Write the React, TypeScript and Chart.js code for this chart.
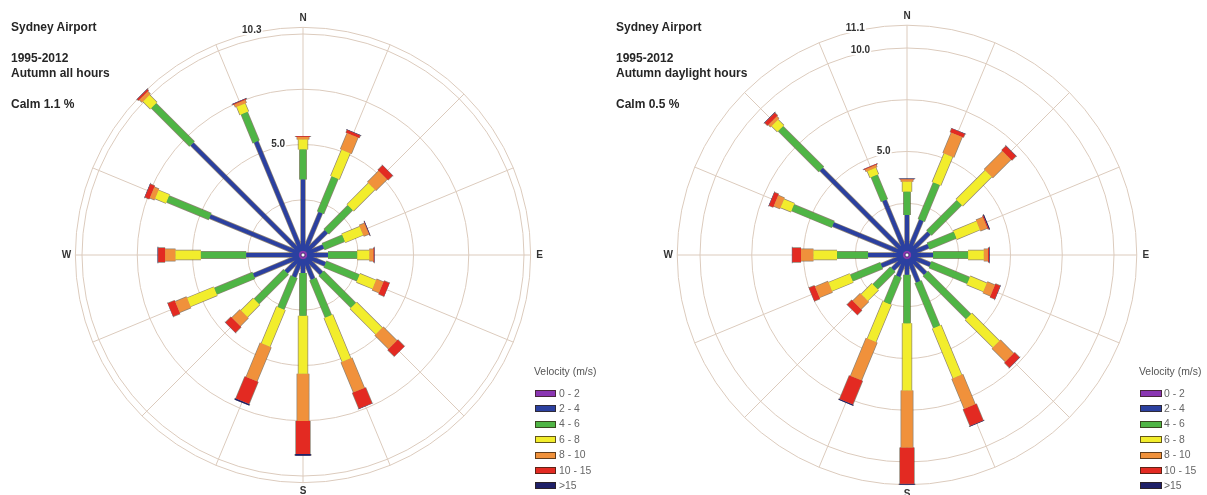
import React, { useEffect, useRef } from 'react';
import { Chart, registerables } from 'chart.js';

Chart.register(...registerables);

// ---------- data ----------
const directions = ['N', 'NNE', 'NE', 'ENE', 'E', 'ESE', 'SE', 'SSE', 'S', 'SSW', 'SW', 'WSW', 'W', 'WNW', 'NW', 'NNW'];
const velocityClasses = ['0 - 2', '2 - 4', '4 - 6', '6 - 8', '8 - 10', '10 - 15', '>15'];

// Autumn all hours (% frequency per direction, per velocity class)
const allHours0to2 = [0.18, 0.18, 0.18, 0.18, 0.18, 0.18, 0.18, 0.18, 0.18, 0.18, 0.18, 0.18, 0.18, 0.18, 0.18, 0.18];
const allHours2to4 = [3.24, 1.89, 1.31, 0.81, 0.95, 0.9, 0.99, 0.99, 0.63, 0.88, 0.9, 2.23, 2.39, 4.37, 6.92, 5.36];
const allHours4to6 = [1.35, 1.71, 1.53, 0.99, 1.32, 1.62, 2.05, 1.83, 1.94, 1.55, 1.89, 1.87, 2.05, 2.07, 2.45, 1.4];
const allHours6to8 = [0.46, 1.29, 1.37, 0.88, 0.55, 0.79, 1.64, 2.14, 2.62, 1.8, 0.79, 1.31, 1.15, 0.54, 0.48, 0.4];
const allHours8to10 = [0.11, 0.79, 0.72, 0.25, 0.18, 0.34, 0.88, 1.48, 2.14, 1.67, 0.52, 0.56, 0.47, 0.23, 0.17, 0.14];
const allHours10to15 = [0.03, 0.13, 0.3, 0.02, 0.04, 0.27, 0.43, 0.77, 1.5, 1.08, 0.36, 0.34, 0.31, 0.22, 0.08, 0.04];
const allHoursOver15 = [0.02, 0.02, 0.01, 0.03, 0.02, 0.01, 0.01, 0.02, 0.07, 0.07, 0.01, 0.01, 0.03, 0.02, 0.02, 0.02];

// Autumn daylight hours
const daylight0to2 = [0.19, 0.19, 0.19, 0.19, 0.19, 0.19, 0.19, 0.19, 0.19, 0.19, 0.19, 0.19, 0.19, 0.19, 0.19, 0.19];
const daylight2to4 = [1.74, 1.62, 1.31, 0.92, 1.07, 1.02, 1.07, 1.21, 0.77, 0.92, 0.78, 1.14, 1.69, 3.67, 5.66, 2.66];
const daylight4to6 = [1.13, 1.91, 2.07, 1.4, 1.69, 2.0, 2.94, 2.35, 2.34, 1.4, 1.2, 1.57, 1.5, 2.11, 2.78, 1.28];
const daylight6to8 = [0.48, 1.5, 1.99, 1.21, 0.76, 0.87, 1.89, 2.6, 3.24, 1.95, 0.73, 1.11, 1.14, 0.55, 0.4, 0.34];
const daylight8to10 = [0.11, 1.06, 1.25, 0.36, 0.2, 0.4, 0.91, 1.57, 2.76, 1.98, 0.52, 0.68, 0.6, 0.33, 0.15, 0.12];
const daylight10to15 = [0.02, 0.19, 0.29, 0.05, 0.05, 0.25, 0.34, 0.87, 1.75, 1.23, 0.32, 0.29, 0.42, 0.22, 0.19, 0.04];
const daylightOver15 = [0.02, 0.02, 0.02, 0.05, 0.03, 0.02, 0.02, 0.03, 0.05, 0.06, 0.01, 0.01, 0.02, 0.02, 0.03, 0.01];

// grid rings and labelled ticks
const allHoursRings = [2.5, 5, 7.5, 10, 10.3];
const allHoursTickLabels = [5, 10.3];
const daylightRings = [2.5, 5, 7.5, 10, 11.1];
const daylightTickLabels = [5, 10, 11.1];
const compassLabels = ['N', 'E', 'S', 'W'];

// ---------- style ----------
const classColors = ['#8a35b2', '#2b40a0', '#4fb545', '#f2ed2c', '#f0913b', '#e32a22', '#1f2068'];
const classWidths = [3, 4, 6.5, 9, 11.5, 14, 15.5];
const FONT = '"Liberation Sans", Arial, sans-serif';

type Pt = { x: number; y: number | null };

function segmentsFor(classes: number[][], k: number): Pt[] {
  const pts: Pt[] = [];
  directions.forEach((_, i) => {
    let start = 0;
    for (let j = 0; j < k; j++) start += classes[j][i];
    const end = start + classes[k][i];
    const a = (i * 22.5 * Math.PI) / 180;
    pts.push({ x: start * Math.sin(a), y: start * Math.cos(a) });
    pts.push({ x: end * Math.sin(a), y: end * Math.cos(a) });
    pts.push({ x: 0, y: null });
  });
  return pts;
}

const roseGridPlugin = {
  id: 'roseGrid',
  beforeDatasetsDraw(chart: any, _args: any, opts: any) {
    const { ctx } = chart;
    const x = chart.scales.x;
    const y = chart.scales.y;
    const ox = x.getPixelForValue(0);
    const oy = y.getPixelForValue(0);
    const rad = (v: number) => x.getPixelForValue(v) - ox;
    ctx.save();
    ctx.strokeStyle = '#dccbbd';
    ctx.lineWidth = 1;
    for (const r of opts.rings) {
      ctx.beginPath();
      ctx.arc(ox, oy, rad(r), 0, Math.PI * 2);
      ctx.stroke();
    }
    const R = rad(opts.max);
    directions.forEach((_, i) => {
      const a = (i * 22.5 * Math.PI) / 180;
      ctx.beginPath();
      ctx.moveTo(ox, oy);
      ctx.lineTo(ox + R * Math.sin(a), oy - R * Math.cos(a));
      ctx.stroke();
    });
    ctx.restore();
  },
  afterDatasetsDraw(chart: any, _args: any, opts: any) {
    const { ctx } = chart;
    const x = chart.scales.x;
    const y = chart.scales.y;
    const ox = x.getPixelForValue(0);
    const oy = y.getPixelForValue(0);
    const rad = (v: number) => x.getPixelForValue(v) - ox;
    const R = rad(opts.max);
    ctx.save();
    // centre dot
    ctx.beginPath();
    ctx.arc(ox, oy, 2, 0, Math.PI * 2);
    ctx.fillStyle = '#ffffff';
    ctx.fill();
    ctx.lineWidth = 0.8;
    ctx.strokeStyle = '#3a2a60';
    ctx.stroke();
    // compass labels
    ctx.font = `bold 10px ${FONT}`;
    ctx.fillStyle = '#333333';
    ctx.textAlign = 'center';
    ctx.textBaseline = 'middle';
    compassLabels.forEach((lab, i) => {
      const a = (i * 90 * Math.PI) / 180;
      const d = R + 9;
      ctx.fillText(lab, ox + d * Math.sin(a), oy - d * Math.cos(a));
    });
    // ring value labels
    ctx.font = `bold 10px ${FONT}`;
    const ang = (-13 * Math.PI) / 180;
    for (const v of opts.tickLabels) {
      const r = rad(v);
      const tx = ox + r * Math.sin(ang);
      const ty = oy - r * Math.cos(ang) - 3;
      const txt = v.toFixed(1);
      const w = ctx.measureText(txt).width;
      ctx.fillStyle = '#ffffff';
      ctx.fillRect(tx - w / 2 - 1, ty - 5, w + 2, 10);
      ctx.fillStyle = '#333333';
      ctx.fillText(txt, tx, ty);
    }
    ctx.restore();
  },
};

type RoseProps = {
  classes: number[][];
  rings: number[];
  tickLabels: number[];
  max: number;
  left: number;
  width: number;
  height: number;
  cx: number;
  cy: number;
  pxPerUnit: number;
};

function WindRose(p: RoseProps) {
  const ref = useRef<HTMLCanvasElement | null>(null);
  useEffect(() => {
    if (!ref.current) return;
    const common = {
      showLine: true,
      spanGaps: false,
      pointRadius: 0,
      pointHoverRadius: 0,
      borderCapStyle: 'butt' as const,
      borderJoinStyle: 'bevel' as const,
      borderDash: [10000, 1],
      fill: false,
      tension: 0,
    };
    const fills = p.classes.map((_, k) => ({
      ...common,
      label: velocityClasses[k],
      data: segmentsFor(p.classes, k),
      borderColor: classColors[k],
      borderWidth: classWidths[k],
      order: k,
    }));
    const outlines = p.classes.map((_, k) => ({
      ...common,
      label: velocityClasses[k] + ' outline',
      data: segmentsFor(p.classes, k),
      borderColor: 'rgba(70,50,25,0.6)',
      borderWidth: classWidths[k] + 1.4,
      order: 10 + k,
    }));
    const k = p.pxPerUnit;
    const chart = new Chart(ref.current, {
      type: 'scatter',
      data: { datasets: [...fills, ...outlines] as any },
      options: {
        animation: false,
        responsive: false,
        events: [],
        layout: { padding: 0 },
        scales: {
          x: { type: 'linear', display: false, min: -p.cx / k, max: (p.width - p.cx) / k },
          y: { type: 'linear', display: false, min: -(p.height - p.cy) / k, max: p.cy / k },
        },
        plugins: {
          legend: { display: false },
          tooltip: { enabled: false },
          roseGrid: { rings: p.rings, tickLabels: p.tickLabels, max: p.max },
        } as any,
      },
      plugins: [roseGridPlugin],
    });
    return () => chart.destroy();
  }, []);
  return (
    <canvas
      ref={ref}
      width={p.width}
      height={p.height}
      style={{ position: 'absolute', left: p.left, top: 0, width: p.width, height: p.height }}
    />
  );
}

function TextBlock({ left, subtitle, calm }: { left: number; subtitle: string; calm: string }) {
  const base: React.CSSProperties = {
    position: 'absolute',
    left,
    font: `bold 12px ${FONT}`,
    color: '#262626',
    lineHeight: '14px',
    whiteSpace: 'nowrap',
  };
  return (
    <>
      <div style={{ ...base, top: 20 }}>Sydney Airport</div>
      <div style={{ ...base, top: 51 }}>1995-2012</div>
      <div style={{ ...base, top: 66 }}>{subtitle}</div>
      <div style={{ ...base, top: 97 }}>{calm}</div>
    </>
  );
}

function Legend({ left, boxLeft, boxWidth, labelLeft }: { left: number; boxLeft: number; boxWidth: number; labelLeft: number }) {
  return (
    <>
      <div
        style={{
          position: 'absolute',
          left,
          top: 365,
          font: `10.4px ${FONT}`,
          color: '#555',
          lineHeight: '14px',
          whiteSpace: 'nowrap',
        }}
      >
        Velocity (m/s)
      </div>
      {velocityClasses.map((c, i) => {
        const cy = 393.5 + i * 15.4;
        return (
          <React.Fragment key={c}>
            <div
              style={{
                position: 'absolute',
                left: boxLeft,
                top: cy - 3.5,
                width: boxWidth,
                height: 7,
                boxSizing: 'border-box',
                background: classColors[i],
                border: '1px solid rgba(50,35,20,0.75)',
              }}
            />
            <div
              style={{
                position: 'absolute',
                left: labelLeft,
                top: cy - 7,
                font: `10.4px ${FONT}`,
                color: '#666',
                lineHeight: '14px',
                whiteSpace: 'nowrap',
              }}
            >
              {c}
            </div>
          </React.Fragment>
        );
      })}
    </>
  );
}

export default function App() {
  const allHours = [allHours0to2, allHours2to4, allHours4to6, allHours6to8, allHours8to10, allHours10to15, allHoursOver15];
  const daylight = [daylight0to2, daylight2to4, daylight4to6, daylight6to8, daylight8to10, daylight10to15, daylightOver15];
  return (
    <div
      style={{
        position: 'fixed',
        left: 0,
        top: 0,
        width: 1207,
        height: 495,
        background: '#ffffff',
        overflow: 'hidden',
      }}
    >
      <WindRose
        classes={allHours}
        rings={allHoursRings}
        tickLabels={allHoursTickLabels}
        max={10.3}
        left={0}
        width={603}
        height={495}
        cx={303}
        cy={255}
        pxPerUnit={22.1}
      />
      <WindRose
        classes={daylight}
        rings={daylightRings}
        tickLabels={daylightTickLabels}
        max={11.1}
        left={603}
        width={604}
        height={495}
        cx={304}
        cy={255}
        pxPerUnit={20.7}
      />
      <TextBlock left={11} subtitle="Autumn all hours" calm="Calm 1.1 %" />
      <TextBlock left={616} subtitle="Autumn daylight hours" calm="Calm 0.5 %" />
      <Legend left={534} boxLeft={535} boxWidth={21} labelLeft={559} />
      <Legend left={1139} boxLeft={1140} boxWidth={22} labelLeft={1164} />
    </div>
  );
}
